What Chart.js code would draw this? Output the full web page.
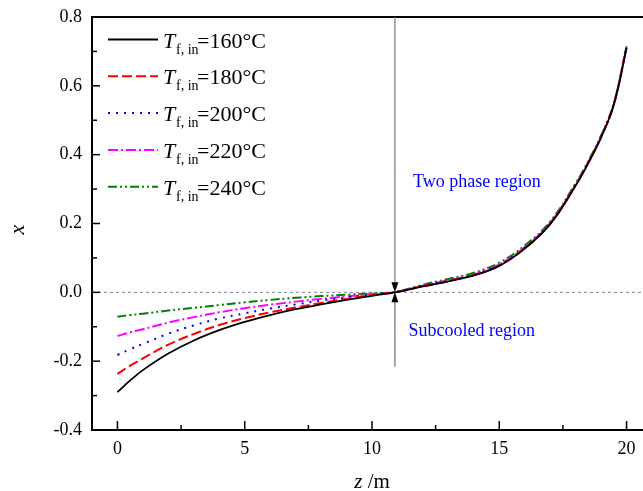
<!DOCTYPE html>
<html>
<head>
<meta charset="utf-8">
<title>Vapour quality along the tube</title>
<script src="https://cdn.jsdelivr.net/npm/chart.js@4.4.1/dist/chart.umd.min.js"></script>
<style>
  html, body { margin: 0; padding: 0; background: #fff; overflow: hidden; }
  #wrap { position: relative; width: 680px; height: 491px; }
</style>
</head>
<body>
<div id="wrap"><canvas id="qualityChart"></canvas></div>
<script>
// ---- data: quality x along the tube length z, one series per inlet temperature ----
const zPos = [0, 0.5, 1, 2, 3, 4, 5, 6, 7, 8, 9, 10, 10.9, 12, 13, 14, 15, 16, 17, 18, 18.5, 19, 19.5, 20];
const x160 = [-0.290, -0.256, -0.226, -0.178, -0.140, -0.110, -0.086, -0.066, -0.049, -0.035, -0.022, -0.010, 0.000,
              0.017, 0.032, 0.049, 0.077, 0.127, 0.198, 0.310, 0.376, 0.450, 0.545, 0.710];
const x180 = [-0.237, -0.213, -0.192, -0.152, -0.121, -0.095, -0.075, -0.058, -0.044, -0.031, -0.019, -0.008, 0.000,
              0.018, 0.033, 0.050, 0.078, 0.128, 0.199, 0.311, 0.377, 0.451, 0.546, 0.711];
const x200 = [-0.182, -0.165, -0.150, -0.120, -0.096, -0.076, -0.061, -0.047, -0.035, -0.024, -0.015, -0.007, 0.000,
              0.019, 0.034, 0.051, 0.080, 0.130, 0.201, 0.312, 0.378, 0.452, 0.547, 0.712];
const x220 = [-0.127, -0.116, -0.107, -0.088, -0.072, -0.058, -0.046, -0.036, -0.027, -0.019, -0.012, -0.005, 0.000,
              0.019, 0.035, 0.052, 0.081, 0.131, 0.202, 0.313, 0.378, 0.452, 0.547, 0.712];
const x240 = [-0.071, -0.066, -0.062, -0.053, -0.045, -0.037, -0.029, -0.022, -0.016, -0.011, -0.007, -0.003, 0.001,
              0.022, 0.039, 0.057, 0.086, 0.136, 0.206, 0.317, 0.382, 0.456, 0.550, 0.715];

const inletTemps = ['160', '180', '200', '220', '240'];
const xTicks = [0, 5, 10, 15, 20];
const yTicks = [-0.4, -0.2, 0.0, 0.2, 0.4, 0.6, 0.8];

// onset of boiling marker and region labels
const boilZ = 10.9;
const boilLineLow = -0.216;
const twoPhaseLabel = { z: 14.12, x: 0.306, text: 'Two phase region' };
const subcooledLabel = { z: 13.92, x: -0.126, text: 'Subcooled region' };

const SERIF = '"Liberation Serif", "Times New Roman", serif';

function toPoints(ys) {
  return zPos.map((z, i) => ({ x: z, y: ys[i] }));
}

function series(ys, color, dash, width) {
  return {
    data: toPoints(ys),
    borderColor: color,
    borderDash: dash,
    borderWidth: width,
    pointRadius: 0,
    fill: false,
    tension: 0.4
  };
}

const datasets = [
  series(x160, '#000000', [], 1.8),
  series(x180, '#ff0000', [10, 4], 2),
  series(x200, '#0000ff', [2, 6], 2),
  series(x220, '#ff00ff', [10, 3, 2, 3], 2),
  series(x240, '#008000', [9, 3, 2, 3, 2, 3], 2)
];

function seg(ctx, x1, y1, x2, y2) {
  ctx.beginPath();
  ctx.moveTo(x1, y1);
  ctx.lineTo(x2, y2);
  ctx.stroke();
}

// zero line under the curves
const zeroLine = {
  id: 'zeroLine',
  beforeDatasetsDraw(chart) {
    const { ctx, chartArea: a, scales: { y } } = chart;
    const py = y.getPixelForValue(0);
    ctx.save();
    ctx.strokeStyle = '#808080';
    ctx.lineWidth = 1;
    ctx.setLineDash([3, 3]);
    seg(ctx, a.left, py, a.right, py);
    ctx.restore();
  }
};

// frame, inward ticks, marker, labels and legend
const decorations = {
  id: 'decorations',
  afterDraw(chart) {
    const { ctx, chartArea: a, scales: { x, y } } = chart;
    ctx.save();

    // top and right border
    ctx.strokeStyle = '#000';
    ctx.lineWidth = 2;
    ctx.beginPath();
    ctx.moveTo(a.left, a.top);
    ctx.lineTo(a.right, a.top);
    ctx.lineTo(a.right, a.bottom);
    ctx.stroke();

    // ticks pointing into the plot
    ctx.lineWidth = 1.5;
    xTicks.forEach(v => {
      const px = x.getPixelForValue(v);
      seg(ctx, px, a.bottom, px, a.bottom - 9);
      const mx = x.getPixelForValue(v + 2.5);
      if (v < 20) seg(ctx, mx, a.bottom, mx, a.bottom - 5);
    });
    yTicks.forEach(v => {
      const py = y.getPixelForValue(v);
      seg(ctx, a.left, py, a.left + 8, py);
      const my = y.getPixelForValue(v + 0.1);
      if (v < 0.8) seg(ctx, a.left, my, a.left + 5, my);
    });

    // boiling onset marker with arrows
    const bx = x.getPixelForValue(boilZ);
    const b0 = y.getPixelForValue(0);
    const bLow = y.getPixelForValue(boilLineLow);
    ctx.strokeStyle = '#808080';
    ctx.lineWidth = 1.3;
    seg(ctx, bx, a.top, bx, b0 - 8);
    ctx.strokeStyle = '#505050';
    ctx.lineWidth = 1;
    seg(ctx, bx, b0 + 8, bx, bLow);
    ctx.fillStyle = '#000';
    ctx.beginPath();
    ctx.moveTo(bx, b0);
    ctx.lineTo(bx - 3.5, b0 - 10);
    ctx.lineTo(bx + 3.5, b0 - 10);
    ctx.closePath();
    ctx.fill();
    ctx.beginPath();
    ctx.moveTo(bx, b0);
    ctx.lineTo(bx - 3.5, b0 + 10);
    ctx.lineTo(bx + 3.5, b0 + 10);
    ctx.closePath();
    ctx.fill();

    // region labels
    ctx.fillStyle = '#0000ff';
    ctx.font = '18px ' + SERIF;
    ctx.textAlign = 'center';
    ctx.textBaseline = 'alphabetic';
    [twoPhaseLabel, subcooledLabel].forEach(l => {
      ctx.fillText(l.text, x.getPixelForValue(l.z), y.getPixelForValue(l.x));
    });

    // legend
    ctx.textAlign = 'left';
    chart.data.datasets.forEach((ds, i) => {
      const ly = a.top + 22.5 + i * 36.8;
      const lx = a.left + 16;
      ctx.strokeStyle = ds.borderColor;
      ctx.lineWidth = ds.borderWidth;
      ctx.setLineDash(ds.borderDash);
      seg(ctx, lx, ly, lx + 50, ly);
      ctx.setLineDash([]);
      ctx.fillStyle = '#000';
      ctx.font = 'italic 22px ' + SERIF;
      ctx.fillText('T', lx + 55, ly + 8);
      ctx.font = '14px ' + SERIF;
      ctx.fillText('f, in', lx + 68, ly + 14);
      ctx.font = '22px ' + SERIF;
      ctx.fillText('=' + inletTemps[i] + '\u00b0C', lx + 89, ly + 8);
    });

    // axis titles
    ctx.fillStyle = '#000';
    ctx.save();
    ctx.translate(18, (a.top + a.bottom) / 2 + 6);
    ctx.rotate(-Math.PI / 2);
    ctx.textAlign = 'center';
    ctx.textBaseline = 'middle';
    ctx.font = 'italic 22px ' + SERIF;
    ctx.fillText('x', 0, 0);
    ctx.restore();

    ctx.font = 'italic 21px ' + SERIF;
    const zW = ctx.measureText('z').width;
    ctx.font = '21px ' + SERIF;
    const restW = ctx.measureText(' /m').width;
    const tx = 372 - (zW + restW) / 2;
    ctx.textAlign = 'left';
    ctx.font = 'italic 21px ' + SERIF;
    ctx.fillText('z', tx, 488);
    ctx.font = '21px ' + SERIF;
    ctx.fillText(' /m', tx + zW, 488);

    ctx.restore();
  }
};

new Chart(document.getElementById('qualityChart'), {
  type: 'line',
  data: { datasets },
  options: {
    responsive: true,
    maintainAspectRatio: false,
    animation: false,
    events: [],
    layout: { padding: { top: 17, right: 28, left: 0, bottom: 0 } },
    plugins: {
      legend: { display: false },
      tooltip: { enabled: false }
    },
    scales: {
      x: {
        type: 'linear',
        min: -1,
        max: 21,
        grid: { display: false },
        border: { display: true, color: '#000', width: 2 },
        afterBuildTicks: scale => { scale.ticks = xTicks.map(v => ({ value: v })); },
        afterFit: scale => { scale.height = 61; },
        ticks: {
          color: '#000',
          padding: 0,
          maxRotation: 0,
          font: { family: SERIF, size: 18 },
          callback: v => String(v)
        }
      },
      y: {
        min: -0.4,
        max: 0.8,
        grid: { display: false },
        border: { display: true, color: '#000', width: 2 },
        afterBuildTicks: scale => { scale.ticks = yTicks.map(v => ({ value: v })); },
        afterFit: scale => { scale.width = 92; },
        ticks: {
          color: '#000',
          padding: 2,
          font: { family: SERIF, size: 18 },
          callback: v => v.toFixed(1)
        }
      }
    }
  },
  plugins: [zeroLine, decorations]
});
</script>
</body>
</html>
